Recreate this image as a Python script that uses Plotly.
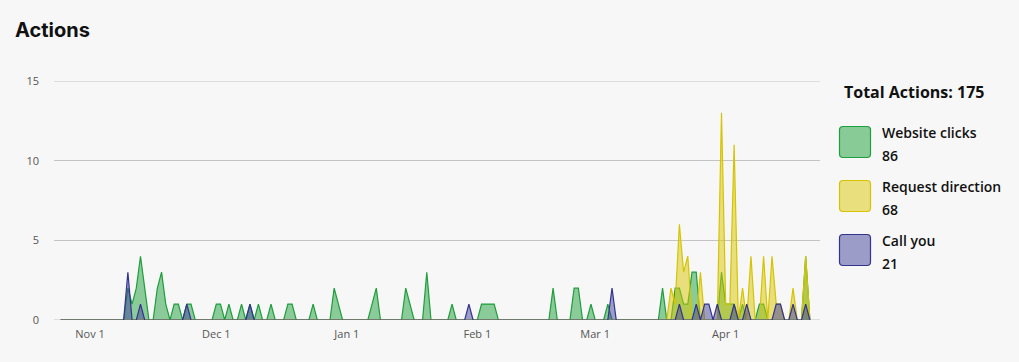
import pandas as pd
import plotly.graph_objects as go

# ---------------- data ----------------
period_start = "2022-10-25"
period_end = "2023-04-21"

website_dates = ["2022-11-10", "2022-11-11", "2022-11-12", "2022-11-13", "2022-11-14",
                 "2022-11-17", "2022-11-18", "2022-11-19", "2022-11-21", "2022-11-22",
                 "2022-11-24", "2022-11-25", "2022-12-01", "2022-12-02", "2022-12-04",
                 "2022-12-07", "2022-12-09", "2022-12-11", "2022-12-14", "2022-12-18",
                 "2022-12-19", "2022-12-24", "2022-12-29", "2022-12-30", "2023-01-07",
                 "2023-01-08", "2023-01-15", "2023-01-16", "2023-01-20", "2023-01-26",
                 "2023-02-02", "2023-02-03", "2023-02-04", "2023-02-05", "2023-02-19",
                 "2023-02-24", "2023-02-25", "2023-02-28", "2023-03-04", "2023-03-17",
                 "2023-03-20", "2023-03-21", "2023-03-22", "2023-03-23", "2023-03-24",
                 "2023-03-25", "2023-03-31", "2023-04-01", "2023-04-02", "2023-04-03",
                 "2023-04-05", "2023-04-09", "2023-04-10", "2023-04-20"]
website_values = [2, 1, 2, 4, 2,
                  2, 3, 1, 1, 1,
                  1, 1, 1, 1, 1,
                  1, 1, 1, 1, 1,
                  1, 1, 2, 1, 1,
                  2, 2, 1, 3, 1,
                  1, 1, 1, 1, 2,
                  2, 2, 1, 1, 2,
                  2, 2, 1, 1, 3,
                  3, 3, 1, 1, 1,
                  1, 1, 1, 4]

direction_dates = ["2023-03-19", "2023-03-20", "2023-03-21", "2023-03-22", "2023-03-23",
                   "2023-03-26", "2023-03-31", "2023-04-01", "2023-04-02", "2023-04-03",
                   "2023-04-05", "2023-04-07", "2023-04-10", "2023-04-12", "2023-04-13",
                   "2023-04-14", "2023-04-17", "2023-04-20"]
direction_values = [2, 1, 6, 3, 4,
                    3, 13, 1, 1, 11,
                    2, 4, 4, 4, 1,
                    1, 2, 4]

call_dates = ["2022-11-10", "2022-11-13", "2022-11-24", "2022-12-09", "2023-01-30",
              "2023-03-05", "2023-03-21", "2023-03-25", "2023-03-27", "2023-03-28",
              "2023-03-30", "2023-04-03", "2023-04-06", "2023-04-13", "2023-04-14",
              "2023-04-17", "2023-04-20"]
call_values = [3, 1, 1, 1, 1,
               2, 1, 1, 1, 1,
               1, 1, 1, 1, 1,
               1, 1]

series_names = ["Website clicks", "Request direction", "Call you"]
series_totals = ["86", "68", "21"]
total_label = "Total Actions: 175"

tick_dates = ["2022-11-01", "2022-12-01", "2023-01-01", "2023-02-01", "2023-03-01", "2023-04-01"]
tick_labels = ["Nov 1", "Dec 1", "Jan 1", "Feb 1", "Mar 1", "Apr 1"]
y_ticks = [0, 5, 10, 15]

# ---------------- build daily series ----------------
days = pd.date_range(period_start, period_end, freq="D")


def daily(dates, values):
    s = pd.Series(0, index=days, dtype=float)
    s.loc[pd.to_datetime(dates)] = values
    return s


series = [daily(website_dates, website_values),
          daily(direction_dates, direction_values),
          daily(call_dates, call_values)]

line_colors = ["#1e9e3c", "#d6c400", "#34348e"]
fill_colors = ["rgba(30,160,60,0.5)", "rgba(217,199,1,0.5)", "rgba(65,65,153,0.5)"]
legend_fill = ["#88cb96", "#e9df7c", "#9c9cc8"]

BG = "#f7f7f7"
GRID = "#c4c4c4"
W, H = 1019, 362
L, R, T, B = 54, 1019 - 820, 81, 42
PW, PH = W - L - R, H - T - B

fig = go.Figure()
for s, name, lc, fc in zip(series, series_names, line_colors, fill_colors):
    fig.add_trace(go.Scatter(
        x=s.index, y=s.values, name=name, mode="lines",
        line=dict(color=lc, width=1.2), fill="tozeroy", fillcolor=fc,
        showlegend=False, hoverinfo="x+y+name"))


def px_to_paper_x(px):
    return (px - L) / PW


def px_to_paper_y(py):
    return (H - B - py) / PH


def rounded_rect(x0, y0, x1, y1, r):
    X = px_to_paper_x
    Y = px_to_paper_y
    pts = [
        f"M {X(x0 + r)} {Y(y0)}",
        f"L {X(x1 - r)} {Y(y0)}",
        f"Q {X(x1)} {Y(y0)} {X(x1)} {Y(y0 + r)}",
        f"L {X(x1)} {Y(y1 - r)}",
        f"Q {X(x1)} {Y(y1)} {X(x1 - r)} {Y(y1)}",
        f"L {X(x0 + r)} {Y(y1)}",
        f"Q {X(x0)} {Y(y1)} {X(x0)} {Y(y1 - r)}",
        f"L {X(x0)} {Y(y0 + r)}",
        f"Q {X(x0)} {Y(y0)} {X(x0 + r)} {Y(y0)}",
        "Z",
    ]
    return " ".join(pts)


shapes = []
# edge grid lines (plotly hides grid lines at the range ends)
for yv in (y_ticks[0], y_ticks[-1]):
    shapes.append(dict(type="line", xref="paper", yref="y", x0=0, x1=1, y0=yv, y1=yv,
                       line=dict(color=GRID, width=1), layer="below"))

annotations = []
annotations.append(dict(
    text=total_label, x=px_to_paper_x(842), y=px_to_paper_y(92), xref="paper", yref="paper",
    xanchor="left", yanchor="middle", showarrow=False,
    font=dict(family="Open Sans", size=16, color="#111111", weight=700)))

box_tops = [126, 180, 234]
for i, top in enumerate(box_tops):
    shapes.append(dict(
        type="path", xref="paper", yref="paper",
        path=rounded_rect(839.5, top + 0.5, 870.5, top + 31.5, 3.5),
        fillcolor=legend_fill[i], line=dict(color=line_colors[i], width=1.2), layer="above"))
    annotations.append(dict(
        text=series_names[i], x=px_to_paper_x(880), y=px_to_paper_y(top + 6.5),
        xref="paper", yref="paper", xanchor="left", yanchor="middle", showarrow=False,
        font=dict(family="Open Sans", size=14, color="#111111", weight=600)))
    annotations.append(dict(
        text=series_totals[i], x=px_to_paper_x(880), y=px_to_paper_y(top + 29.5),
        xref="paper", yref="paper", xanchor="left", yanchor="middle", showarrow=False,
        font=dict(family="Open Sans", size=14, color="#111111", weight=600)))

fig.update_layout(
    width=W, height=H,
    margin=dict(l=L, r=R, t=T, b=B, pad=0),
    paper_bgcolor=BG, plot_bgcolor=BG,
    title=dict(text="Actions", x=15 / W, y=1 - 30 / H, xref="container", yref="container",
               xanchor="left", yanchor="middle",
               font=dict(family="Inter", size=20, color="#111111", weight=700)),
    xaxis=dict(
        type="date",
        range=["2022-10-23 10:48", "2023-04-23 09:36"],
        tickmode="array", tickvals=tick_dates, ticktext=tick_labels,
        showgrid=False, zeroline=False, showline=False,
        ticks="", ticklabelstandoff=6,
        tickfont=dict(family="Open Sans", size=11, color="#555555"),
    ),
    yaxis=dict(
        range=[0, 15], tickmode="array", tickvals=y_ticks,
        showgrid=True, gridcolor=GRID, gridwidth=1,
        zeroline=False, showline=False, ticks="", ticklabelstandoff=14,
        tickfont=dict(family="Open Sans", size=11, color="#555555"),
    ),
    shapes=shapes, annotations=annotations,
    showlegend=False,
)

fig.write_html("out.html")
